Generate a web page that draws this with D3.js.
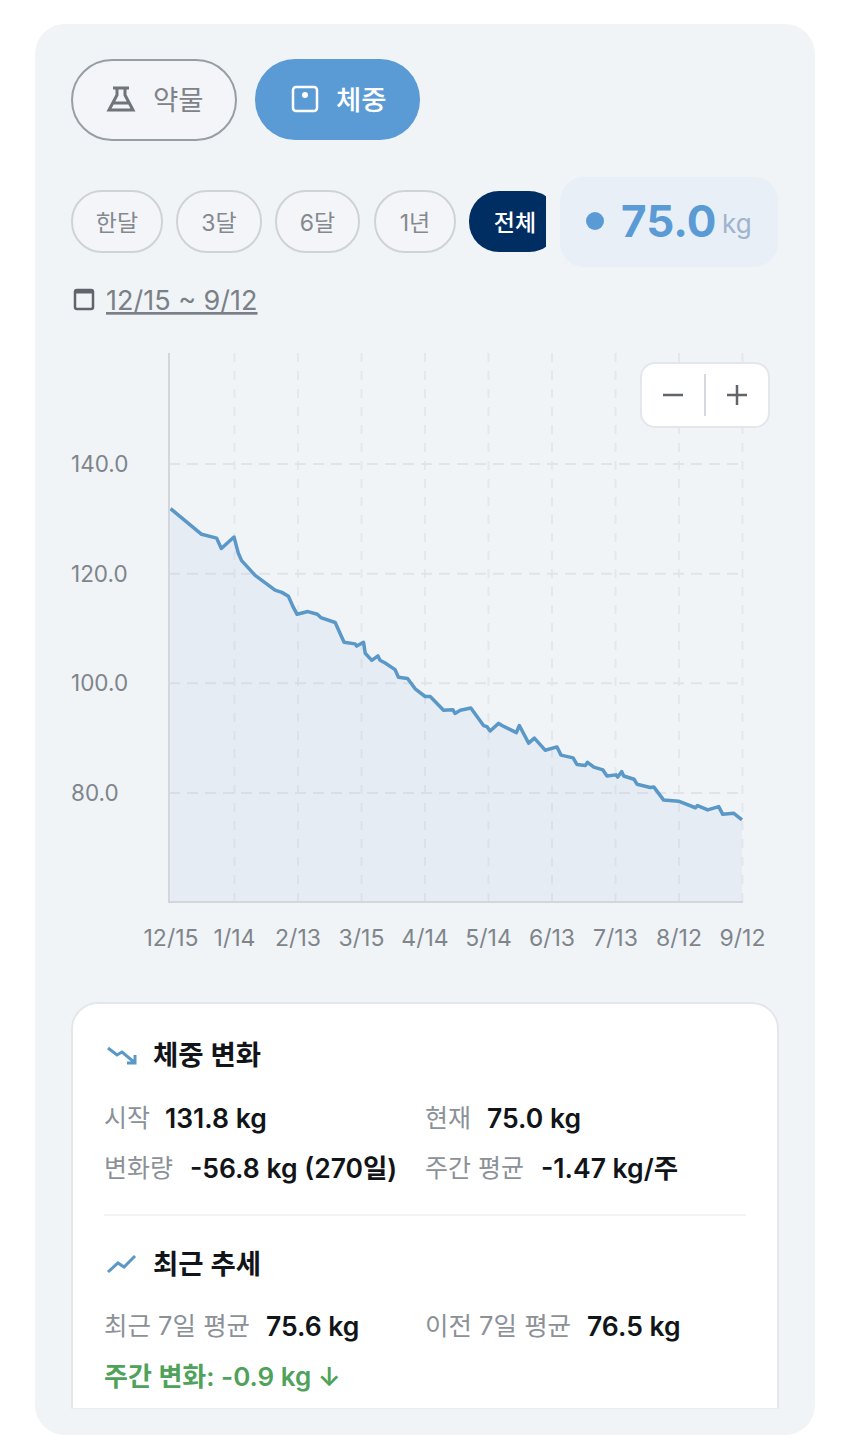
<!DOCTYPE html>
<html>
<head>
<meta charset="utf-8">
<script src="https://cdn.jsdelivr.net/npm/d3@7"></script>
<style>
html, body { margin: 0; padding: 0; background: #fff; }
svg { display: block; }
text { font-family: Inter, "Noto Sans CJK KR", sans-serif; }
</style>
</head>
<body>
<div id="chart"></div>
<script>
// days since 12/15 and weight
var days = [0, 14.7, 21.8, 24, 30, 32, 33.6, 40, 49.4, 52.6, 55.7, 58, 59.8, 64.9, 69.4, 71, 77.8, 82, 87.2, 88, 91.2, 92, 95.1, 98, 99, 101.4, 106.1, 107.7, 112, 115.6, 120.3, 122.7, 129, 133.4, 134.4, 136.9, 141.9, 147.9, 149.5, 151, 155, 156.6, 163.4, 164.8, 169.2, 171.9, 177, 182.6, 184.5, 190.2, 192, 196, 197, 200, 204.3, 206.2, 210.5, 211.3, 213.2, 214.1, 219, 220.4, 226.7, 228.3, 233, 240, 248, 249, 253.8, 259, 260.9, 266, 270];
var weights = [131.8, 127.1, 126.4, 124.5, 126.6, 123.7, 122.3, 119.6, 116.9, 116.5, 115.8, 113.8, 112.5, 113, 112.5, 111.9, 111, 107.4, 107.1, 106.7, 107.4, 105.4, 104.1, 104.9, 104.1, 103.6, 102.4, 101, 100.8, 98.9, 97.5, 97.5, 95, 95.1, 94.4, 95, 95.4, 92.2, 92, 91.2, 92.6, 92.2, 90.9, 92.2, 89, 89.9, 87.7, 88.3, 86.8, 86.3, 85.1, 84.9, 85.5, 84.6, 84.1, 83, 83.2, 82.8, 83.8, 83, 82.4, 81.5, 80.9, 81, 78.6, 78.4, 77.2, 77.6, 76.8, 77.4, 76, 76.2, 75];

var xTickDays = [0, 30, 60, 90, 120, 150, 180, 210, 240, 270];
var xTickLabels = ["12/15", "1/14", "2/13", "3/15", "4/14", "5/14", "6/13", "7/13", "8/12", "9/12"];
var yTicks = [80, 100, 120, 140];
var rangeButtons = ["한달", "3달", "6달", "1년", "전체"];
var rangeX = [72, 177, 276, 375, 469];
var rangeW = [90, 84, 83, 80, 90];

var blue = "#5b9bd5", gray = "#8b9197", dark = "#111418", cardbg = "#f0f4f7";

var svg = d3.select("#chart").append("svg").attr("width", 850).attr("height", 1443);

function label(x, y, str, size, color, weight, anchor){
	return svg.append("text").attr("x", x).attr("y", y).attr("font-size", size)
		.attr("fill", color).attr("font-weight", weight || 400)
		.attr("text-anchor", anchor || "start").text(str);
}

// main card
svg.append("rect").attr("x", 35).attr("y", 24).attr("width", 780).attr("height", 1411).attr("rx", 30).attr("fill", cardbg);

// top toggle buttons
svg.append("rect").attr("x", 72).attr("y", 60).attr("width", 164).attr("height", 80).attr("rx", 40).attr("fill", "#f3f5f8").attr("stroke", "#989ea3").attr("stroke-width", 2);
svg.append("path").attr("d", "M113 88h16M117 88v7l-8 15h24l-8-15v-7M113 103h16").attr("fill", "none").attr("stroke", "#6f757b").attr("stroke-width", 3);
label(153, 110, "약물", 27.5, "#7d8389");
svg.append("rect").attr("x", 255).attr("y", 59).attr("width", 165).attr("height", 81).attr("rx", 40).attr("fill", blue);
svg.append("rect").attr("x", 293).attr("y", 87).attr("width", 24).attr("height", 24).attr("rx", 3).attr("fill", "none").attr("stroke", "#fff").attr("stroke-width", 2.5);
svg.append("circle").attr("cx", 305).attr("cy", 95).attr("r", 3).attr("fill", "#fff");
label(336, 110, "체중", 27.5, "#fff", 500);

// range buttons, the last one is cut off on its right side
svg.append("clipPath").attr("id", "cutlast").append("rect").attr("x", 0).attr("y", 180).attr("width", 546).attr("height", 80);
rangeButtons.forEach(function(b, i){
	var on = i == 4;
	svg.append("rect").attr("x", rangeX[i]).attr("y", 191).attr("width", rangeW[i]).attr("height", 61).attr("rx", 30)
		.attr("clip-path", "url(#cutlast)")
		.attr("fill", on ? "#002d62" : "#f3f5f8").attr("stroke", on ? "none" : "#cfd3d7").attr("stroke-width", 2);
	label(on ? 515 : rangeX[i] + rangeW[i] / 2, 231, b, 23, on ? "#fff" : "#85898e", on ? 500 : 400, "middle");
});

// current value box
svg.append("rect").attr("x", 560).attr("y", 177).attr("width", 218).attr("height", 90).attr("rx", 24).attr("fill", "#e9eff7");
svg.append("circle").attr("cx", 595).attr("cy", 221).attr("r", 9).attr("fill", blue);
label(621, 237, "75.0", 44, blue, 700);
label(722, 233, "kg", 26, "#9db4cc");

// date range
svg.append("rect").attr("x", 75).attr("y", 290).attr("width", 18).attr("height", 19).attr("rx", 2).attr("fill", "none").attr("stroke", "#5f656b").attr("stroke-width", 2.5);
svg.append("rect").attr("x", 75).attr("y", 290).attr("width", 18).attr("height", 3.5).attr("fill", "#5f656b");
label(106, 310, "12/15 ~ 9/12", 27, "#7a8087").attr("text-decoration", "underline");

// chart
var x = d3.scaleLinear().domain([0, 270]).range([170.5, 742]);
var y = d3.scaleLinear().domain([60, 160]).range([902, 354]);

var xAxis = d3.axisBottom(x).tickValues(xTickDays)
	.tickFormat(function(d, i){ return xTickLabels[i]; }).tickSize(-549).tickPadding(28);
var yAxis = d3.axisLeft(y).tickValues(yTicks)
	.tickFormat(d3.format(".1f")).tickSize(-573).tickPadding(41);

var gx = svg.append("g").attr("transform", "translate(0,902)").call(xAxis);
var gy = svg.append("g").attr("transform", "translate(169,0)").call(yAxis);
gx.select(".domain").remove();
gy.select(".domain").remove();
gx.selectAll(".tick line").attr("stroke", "#e4e8ec").attr("stroke-width", 2).attr("stroke-dasharray", "9 9")
	.attr("opacity", function(d){ return d == 0 ? 0 : 1; });
gy.selectAll(".tick line").attr("stroke", "#e0e4e8").attr("stroke-width", 2).attr("stroke-dasharray", "11 7");
gx.selectAll(".tick text").attr("fill", "#7f858b").attr("font-size", 23).style("font-family", "Inter");
gy.selectAll(".tick text").attr("fill", "#7f858b").attr("font-size", 22.5).style("font-family", "Inter").attr("dy", "0.36em");
gy.selectAll(".tick text").attr("text-anchor", "start").attr("x", -98);

var area = d3.area().x(function(d){ return x(d[0]); }).y0(y(60)).y1(function(d){ return y(d[1]); });
var line = d3.line().x(function(d){ return x(d[0]); }).y(function(d){ return y(d[1]); });
var series = d3.zip(days, weights);
svg.append("path").attr("d", area(series)).attr("fill", "#90a4e4").attr("fill-opacity", 0.1);
svg.append("path").attr("d", line(series)).attr("fill", "none").attr("stroke", "#5a98c8").attr("stroke-width", 3.5).attr("stroke-linejoin", "round");

// axis lines
svg.append("line").attr("x1", 169).attr("x2", 169).attr("y1", 353).attr("y2", 903).attr("stroke", "#d3d7db").attr("stroke-width", 2);
svg.append("line").attr("x1", 169).attr("x2", 743).attr("y1", 902).attr("y2", 902).attr("stroke", "#d3d7db").attr("stroke-width", 2);

// zoom control
svg.append("rect").attr("x", 641).attr("y", 363).attr("width", 128).attr("height", 64).attr("rx", 14).attr("fill", "#fff").attr("stroke", "#e3e6ea").attr("stroke-width", 2);
svg.append("path").attr("d", "M663 395h20M737 385v20M727 395h20").attr("stroke", "#5f656b").attr("stroke-width", 2.5);
svg.append("line").attr("x1", 705).attr("x2", 705).attr("y1", 374).attr("y2", 416).attr("stroke", "#d5d8dc").attr("stroke-width", 2);

// summary panel, runs off the bottom so only the top corners are round
svg.append("path").attr("d", "M72 1409V1029a26 26 0 0 1 26-26H752a26 26 0 0 1 26 26V1409Z").attr("fill", "#fff").attr("stroke", "#e3e7ec").attr("stroke-width", 2);
svg.append("rect").attr("x", 70).attr("y", 1408.5).attr("width", 710).attr("height", 12).attr("fill", cardbg);

svg.append("path").attr("d", "M108 1048l9 7 5-3 12 10M127 1063h8v-8").attr("fill", "none").attr("stroke", "#5a98c8").attr("stroke-width", 3);
label(153, 1065, "체중 변화", 27.5, dark, 600);
label(104, 1127, "시작", 25, gray);
label(165, 1128, "131.8 kg", 26.5, dark, 600);
label(425, 1127, "현재", 25, gray);
label(487, 1128, "75.0 kg", 26.5, dark, 600);
label(104, 1177, "변화량", 25, gray);
label(190, 1178, "-56.8 kg (270일)", 26.5, dark, 600);
label(425, 1177, "주간 평균", 25, gray);
label(541, 1178, "-1.47 kg/주", 26.5, dark, 600);

svg.append("line").attr("x1", 104).attr("x2", 746).attr("y1", 1215).attr("y2", 1215).attr("stroke", "#eceff2").attr("stroke-width", 1.5);

svg.append("path").attr("d", "M108 1272l10-9 6 4 11-11").attr("fill", "none").attr("stroke", "#5a98c8").attr("stroke-width", 3);
label(153, 1274, "최근 추세", 27.5, dark, 600);
label(104, 1335, "최근 7일 평균", 25.5, gray);
label(266, 1336, "75.6 kg", 26.5, dark, 600);
label(425, 1335, "이전 7일 평균", 25.5, gray);
label(587, 1336, "76.5 kg", 26.5, dark, 600);
label(104, 1386, "주간 변화: -0.9 kg ↓", 26, "#4fa25a", 600);
</script>
</body>
</html>
